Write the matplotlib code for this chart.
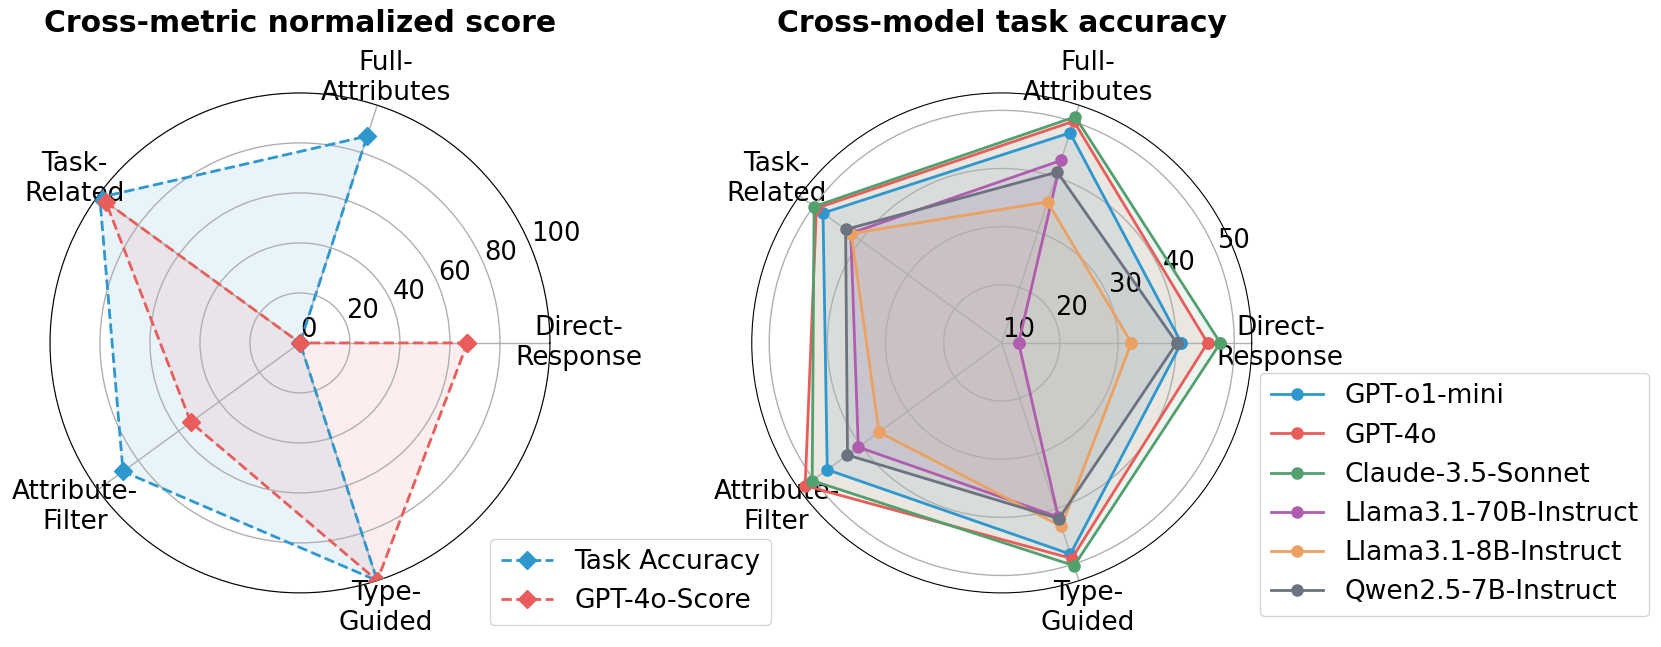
import numpy as np
import matplotlib
matplotlib.use("Agg")
import matplotlib.pyplot as plt

# categorias (eixos do radar)
CATEGORIAS = ["Direct-\nResponse", "Full-\nAttributes", "Task-\nRelated",
              "Attribute-\nFilter", "Type-\nGuided"]

# grafico esquerdo: score normalizado (0-100)
TASK_ACCURACY = [0, 87, 99, 87.5, 100]
GPT4O_SCORE = [67, 0, 96, 54, 100]

# grafico direito: acuracia por modelo
MODELOS = ["GPT-o1-mini", "GPT-4o", "Claude-3.5-Sonnet",
           "Llama3.1-70B-Instruct", "Llama3.1-8B-Instruct", "Qwen2.5-7B-Instruct"]
ACC_O1_MINI = [40.9, 48.0, 48.0, 47.1, 48.2]
ACC_GPT4O = [45.4, 50.1, 49.4, 51.8, 49.0]
ACC_CLAUDE = [47.6, 50.9, 49.9, 50.3, 50.3]
ACC_LLAMA70 = [12.9, 43.0, 42.1, 40.5, 41.5]
ACC_LLAMA8 = [32.3, 35.5, 42.0, 36.1, 43.2]
ACC_QWEN = [40.1, 40.9, 43.2, 42.8, 41.8]

CORES = ["#2E97CE", "#E85D5A", "#52A06E", "#B05CAF", "#EBA162", "#6B7280"]

FS_CAT = 19
FS_TICK = 18.5
FS_LEG = 19
FS_TIT = 21.5

angulos = np.linspace(0, 2 * np.pi, len(CATEGORIAS), endpoint=False)
ang_fech = np.concatenate([angulos, angulos[:1]])


def fecha(v):
    return np.concatenate([v, v[:1]])


def estilo(ax, titulo):
    ax.set_xticks(angulos)
    ax.set_xticklabels(CATEGORIAS, fontsize=FS_CAT)
    ax.tick_params(axis="x", pad=10)
    ax.tick_params(axis="y", labelsize=FS_TICK)
    ax.grid(True, color="#b0b0b0", lw=1)
    ax.set_title(titulo, fontsize=FS_TIT, fontweight="bold", y=1.105)


fig = plt.figure(figsize=(16.61, 6.47), dpi=100)
ax1 = fig.add_axes([0.0301, 0.0835, 0.301, 0.773], projection="polar")
ax2 = fig.add_axes([0.4526, 0.0835, 0.301, 0.773], projection="polar")

# --- esquerdo
for vals, cor, rot in [(TASK_ACCURACY, CORES[0], "Task Accuracy"),
                       (GPT4O_SCORE, CORES[1], "GPT-4o-Score")]:
    v = fecha(np.array(vals, dtype=float))
    ax1.plot(ang_fech, v, "--", color=cor, lw=2, marker="D", ms=9,
             label=rot, zorder=3)
    ax1.fill(ang_fech, v, color=cor, alpha=0.1)
ax1.set_ylim(0, 100)
ax1.set_yticks([0, 20, 40, 60, 80, 100])
estilo(ax1, "Cross-metric normalized score")
fig.legend(*ax1.get_legend_handles_labels(), loc="lower left",
           bbox_to_anchor=(0.295, 0.034), borderaxespad=0, fontsize=FS_LEG)

# --- direito
series = [ACC_O1_MINI, ACC_GPT4O, ACC_CLAUDE, ACC_LLAMA70, ACC_LLAMA8, ACC_QWEN]
for vals, cor, rot in zip(series, CORES, MODELOS):
    v = fecha(np.array(vals, dtype=float))
    ax2.plot(ang_fech, v, "-", color=cor, lw=2, marker="o", ms=8,
             label=rot, zorder=3)
    ax2.fill(ang_fech, v, color=cor, alpha=0.1)
ax2.set_ylim(10, 53)
ax2.set_yticks([10, 20, 30, 40, 50])
estilo(ax2, "Cross-model task accuracy")
fig.legend(*ax2.get_legend_handles_labels(), loc="lower left",
           bbox_to_anchor=(0.7586, 0.048), borderaxespad=0, fontsize=FS_LEG)

fig.savefig("out.png", dpi=100)
